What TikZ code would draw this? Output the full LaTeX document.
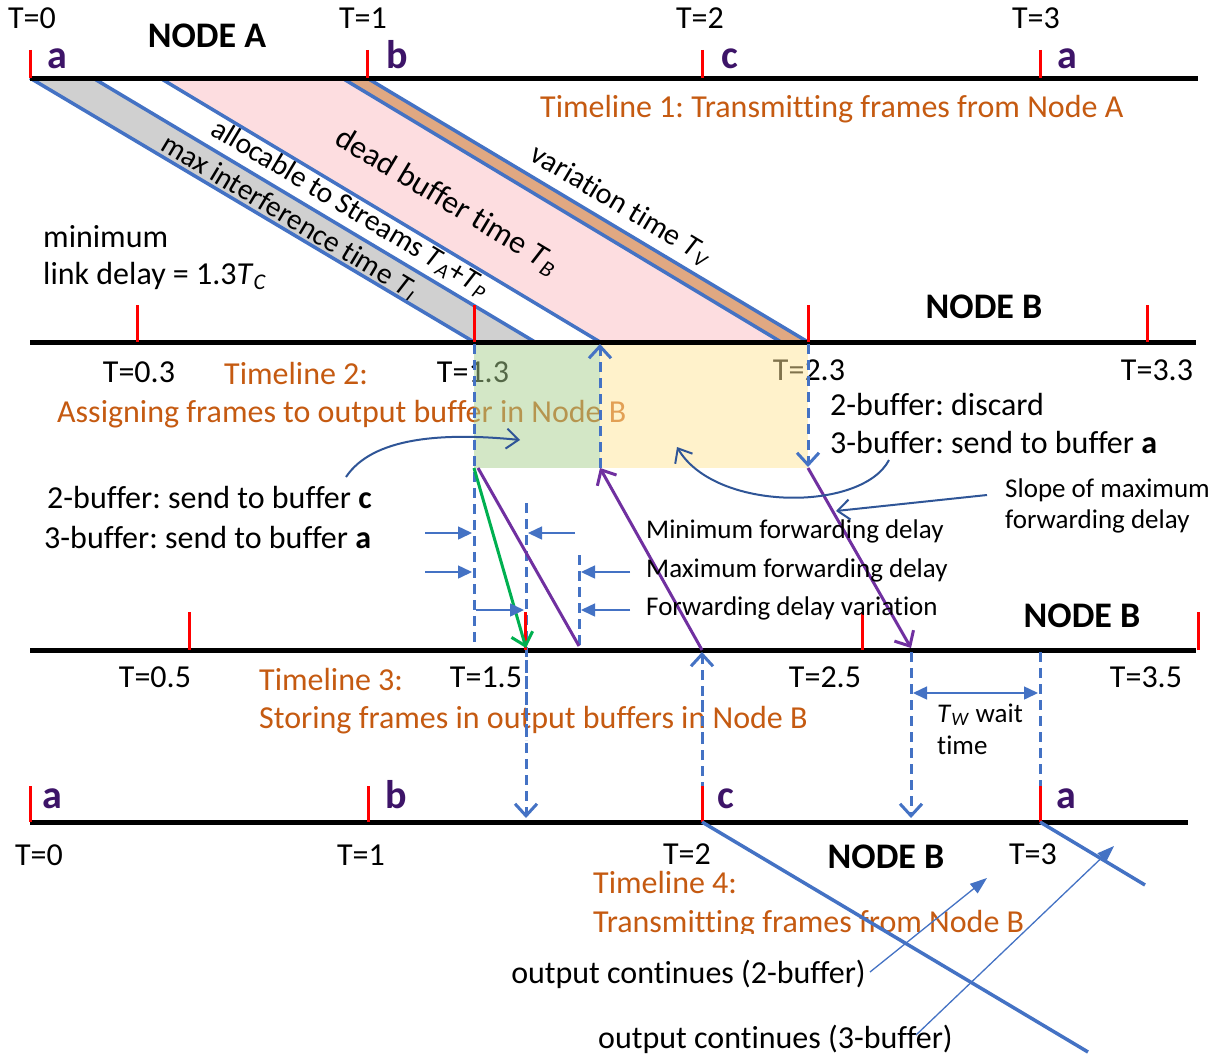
\documentclass[tikz,border=0pt]{standalone}
\usepackage{fontspec}
\setmainfont{Carlito}[Ligatures=NoCommon]
\usetikzlibrary{arrows.meta}

\definecolor{bl}{HTML}{4472C4}
\definecolor{dbl}{HTML}{2F5597}
\definecolor{pur}{HTML}{7030A0}
\definecolor{grn}{HTML}{00B050}
\definecolor{org}{HTML}{C55A11}
\definecolor{bandgrey}{HTML}{D0D0D0}
\definecolor{bandpink}{HTML}{FDDDE0}
\definecolor{bandtan}{HTML}{E0A882}
\definecolor{boxgreen}{HTML}{A9D18E}
\definecolor{boxyellow}{HTML}{FFE699}
\definecolor{framelet}{HTML}{3D1468}

\newcommand\Tsub[1]{\textit{T}\textsubscript{\textit{#1}}}
\newcommand\fnorm{\fontsize{32}{38}\selectfont}
\newcommand\fslant{\fontsize{29.5}{34}\selectfont}
\newcommand\fsmall{\fontsize{27}{32}\selectfont}
\newcommand\fnode{\fontsize{36}{40}\selectfont\bfseries}
\newcommand\fletter{\fontsize{40}{44}\selectfont\bfseries}

\tikzset{
  timeline/.style={line width=5pt, black},
  redtick/.style={red, line width=3pt},
  bandline/.style={bl, line width=3.5pt},
  vdash/.style={bl, line width=3pt, dash pattern=on 10pt off 6pt},
  veetip/.style={-{Straight Barb[length=12pt,width=22pt]}},
  purp/.style={pur, line width=3pt},
  dimarrow/.style={bl, line width=1.5pt, -{Triangle[length=14pt,width=13pt]}},
  curvearrow/.style={dbl, line width=2pt, -{Straight Barb[length=12pt,width=20pt]}},
  thinarrow/.style={bl, line width=1.3pt, -{Triangle[length=17pt,width=12pt]}},
  lab/.style={font=\fnorm, inner sep=0pt, anchor=base},
  labl/.style={font=\fnorm, inner sep=0pt, anchor=base west},
  small/.style={font=\fsmall, inner sep=0pt, anchor=base west},
  nodelab/.style={font=\fnode, inner sep=0pt, anchor=base},
  letter/.style={font=\fletter, text=framelet, inner sep=0pt, anchor=base},
  orangetext/.style={text=org},
  rot/.style={font=\fslant, inner sep=0pt, rotate=-30.9},
}

\begin{document}
\frenchspacing
\begin{tikzpicture}[x=1pt, y=-1pt]
\useasboundingbox (0,0) rectangle (1214,1057);
\fill[white] (0,0) rectangle (1214,1057);

% ---------- key points ----------
\coordinate (t1s) at (30,78);   \coordinate (t1e) at (1198,78);
\coordinate (t2s) at (30,342);  \coordinate (t2e) at (1196,342);
\coordinate (t3s) at (30,650);  \coordinate (t3e) at (1196,650);
\coordinate (t4s) at (30,822);  \coordinate (t4e) at (1188,822);

\coordinate (b1a) at (30,78);   \coordinate (b1b) at (474,342);
\coordinate (b2a) at (93,78);   \coordinate (b2b) at (535,342);
\coordinate (b3a) at (160,78);  \coordinate (b3b) at (600,342);
\coordinate (b4a) at (342,78);  \coordinate (b4b) at (781,342);
\coordinate (b5a) at (367,78);  \coordinate (b5b) at (808,342);

% ---------- propagation bands between Node A and Node B ----------
\fill[bandgrey] (b1a) -- (b2a) -- (b2b) -- (b1b) -- cycle;
\fill[bandpink] (b3a) -- (b4a) -- (b4b) -- (b3b) -- cycle;
\fill[bandtan]  (b4a) -- (b5a) -- (b5b) -- (b4b) -- cycle;

\node[rot] (lblI) at (289,218) {max interference time \Tsub{I}};
\node[rot] (lblAP) at (350,209) {allocable to Streams \Tsub{A}+\Tsub{P}};
\node[rot, font=\fnorm] (lblB) at (447,202) {dead buffer time \Tsub{B}};
\node[rot, font=\fontsize{30}{34}\selectfont] (lblV) at (621,206) {variation time \Tsub{V}};

% ---------- texts of timeline 2 (under the buffer boxes) ----------
\node[labl, orangetext] (tl2a) at (224,384) {Timeline 2:};
\node[labl, orangetext] (tl2b) at (57,422) {Assigning frames to output buffer in Node B};
\node[lab] (t2l0) at (139,382) {T=0.3};
\node[lab] (t2l1) at (473,382) {T=1.3};
\node[lab] (t2l2) at (809,380) {T=2.3};
\node[lab] (t2l3) at (1157,380) {T=3.3};

% buffer assignment windows
\fill[boxgreen, fill opacity=0.5] (474,342) rectangle (600,468);
\fill[boxyellow, fill opacity=0.5] (600,342) rectangle (808,468);
\coordinate (gbl) at (474,468);
\coordinate (gbr) at (600,468);
\coordinate (ybr) at (808,468);

% band borders
\draw[bandline] (b1a) -- (b1b);
\draw[bandline] (b2a) -- (b2b);
\draw[bandline] (b3a) -- (b3b);
\draw[bandline] (b4a) -- (b4b);
\draw[bandline] (b5a) -- (b5b);

% ---------- timelines ----------
\draw[timeline] (t1s) -- (t1e);
\draw[timeline] (t2s) -- (t2e);
\draw[timeline] (t3s) -- (t3e);
\draw[timeline] (t4s) -- (t4e);

% ---------- dashed projections ----------
\coordinate (d1a) at (474,344);  \coordinate (d1b) at (474,648);
\coordinate (d2a) at (600,468);  \coordinate (d2b) at (600,344);
\coordinate (d3a) at (808,344);  \coordinate (d3b) at (808,467);
\coordinate (d4a) at (526,503);  \coordinate (d4b) at (526,818);
\coordinate (d5a) at (579,555);  \coordinate (d5b) at (579,648);
\coordinate (d6a) at (702,792);  \coordinate (d6b) at (702,652);
\coordinate (d7a) at (911,652);  \coordinate (d7b) at (911,818);
\coordinate (d8a) at (1040,652); \coordinate (d8b) at (1040,792);
\draw[vdash] (d1a) -- (d1b);
\draw[vdash, veetip] (d2a) -- (d2b);
\draw[vdash, veetip] (d3a) -- (d3b);
\draw[vdash, veetip] (d4a) -- (d4b);
\draw[vdash] (d5a) -- (d5b);
\draw[vdash, veetip] (d6a) -- (d6b);
\draw[vdash, veetip] (d7a) -- (d7b);
\draw[vdash] (d8a) -- (d8b);

% ---------- period ticks ----------
\foreach \x in {30,367,702,1040} \draw[redtick] (\x,50) -- (\x,78);
\foreach \x in {137,474,808,1147} \draw[redtick] (\x,305) -- (\x,342);
\foreach \x in {189,525,862,1198} \draw[redtick] (\x,612) -- (\x,650);
\foreach \x in {30,368,702,1040} \draw[redtick] (\x,786) -- (\x,822);

% ---------- forwarding paths ----------
\coordinate (f1) at (478,468);  \coordinate (f1e) at (579,646);
\coordinate (f2) at (702,650);
\coordinate (f3e) at (911,648);
\coordinate (g1e) at (526,648);
\draw[purp] (f1) -- (f1e);
\draw[purp, veetip] (f2) -- (gbr);
\draw[purp, veetip] (ybr) -- (f3e);
\draw[grn, line width=3pt, veetip] (gbl) -- (g1e);

% ---------- delay dimension arrows ----------
\draw[dimarrow] (425,533) -- (472,533);
\draw[dimarrow] (575,533) -- (528,533);
\draw[dimarrow] (425,572) -- (472,572);
\draw[dimarrow] (630,572) -- (581,572);
\draw[dimarrow] (476,610) -- (524,610);
\draw[dimarrow] (630,610) -- (581,610);
\node[small] (mind) at (646,538) {Minimum forwarding delay};
\node[small] (maxd) at (646,577) {Maximum forwarding delay};
\node[small] (vard) at (646,615) {Forwarding delay variation};

% wait time
\coordinate (w1) at (913,693); \coordinate (w2) at (1038,693);
\draw[bl, line width=1.5pt, {Triangle[length=14pt,width=13pt]}-{Triangle[length=14pt,width=13pt]}] (w1) -- (w2);
\node[small] (tw1) at (937,722) {\Tsub{W} wait};
\node[small] (tw2) at (937,754) {time};

% ---------- callout arrows ----------
\coordinate (c1s) at (346,477); \coordinate (c1e) at (520,440);
\draw[curvearrow] (c1s) .. controls (372,438) and (440,432) .. (c1e);
\coordinate (c2s) at (889,460); \coordinate (c2e) at (677,447);
\draw[curvearrow] (c2s) .. controls (862,512) and (715,512) .. (c2e);
\coordinate (c3s) at (987,495); \coordinate (c3e) at (836,511);
\draw[curvearrow] (c3s) -- (c3e);

% ---------- text of timeline 1 ----------
\node[lab] (t1l0) at (32,29) {T=0};
\node[lab] (t1l1) at (363,29) {T=1};
\node[lab] (t1l2) at (700,29) {T=2};
\node[lab] (t1l3) at (1036,29) {T=3};
\node[nodelab] (nodeA) at (207,48) {NODE A};
\node[letter] (la1) at (57,68) {a};
\node[letter] (lb1) at (397,68) {b};
\node[letter] (lc1) at (730,68) {c};
\node[letter] (la2) at (1067,68) {a};
\node[labl, orangetext] (tl1) at (540,117) {Timeline 1: Transmitting frames from Node A};

\node[labl] (mld1) at (43,247) {minimum};
\node[labl] (mld2) at (43,284) {link delay = 1.3\Tsub{C}};

% ---------- text of timeline 2 ----------
\node[nodelab] (nodeB2) at (984,318) {NODE B};
\node[labl] (dis1) at (830,415) {2-buffer: discard};
\node[labl] (dis2) at (830,453) {3-buffer: send to buffer \textbf{a}};
\node[labl] (snd1) at (47,508) {2-buffer: send to buffer \textbf{c}};
\node[labl] (snd2) at (44,548) {3-buffer: send to buffer \textbf{a}};
\node[small] (slope1) at (1005,497) {Slope of maximum};
\node[small] (slope2) at (1005,528) {forwarding delay};

% ---------- text of timeline 3 ----------
\node[nodelab] (nodeB3) at (1082,627) {NODE B};
\node[lab] (t3l0) at (155,687) {T=0.5};
\node[lab] (t3l1) at (486,687) {T=1.5};
\node[lab] (t3l2) at (825,687) {T=2.5};
\node[lab] (t3l3) at (1146,687) {T=3.5};
\node[labl, orangetext] (tl3a) at (259,690) {Timeline 3:};
\node[labl, orangetext] (tl3b) at (259,728) {Storing frames in output buffers in Node B};
% dashed lines run over the text of timeline 3
\draw[vdash] (526,660) -- (526,740);
\draw[vdash] (702,700) -- (702,740);

% ---------- timeline 4 ----------
\node[letter] (la3) at (52,808) {a};
\node[letter] (lb3) at (396,808) {b};
\node[letter] (lc3) at (726,808) {c};
\node[letter] (la4) at (1066,808) {a};
\node[lab] (t4l0) at (39,865) {T=0};
\node[lab] (t4l1) at (361,865) {T=1};
\node[lab] (t4l2) at (687,864) {T=2};
\node[lab] (t4l3) at (1033,864) {T=3};
\node[nodelab] (nodeB4) at (886,868) {NODE B};
\node[labl, orangetext] (tl4a) at (593,893) {Timeline 4:};
\begin{scope}
  \clip (580,860) rectangle (1070,933);
  \node[labl, orangetext] (tl4b) at (593,932) {Transmitting frames from Node B};
\end{scope}

% outgoing transmissions from Node B
\coordinate (o1s) at (702,822); \coordinate (o1e) at (1088,1052);
\coordinate (o2s) at (1040,822); \coordinate (o2e) at (1145,885);
\draw[bandline] (o1s) -- (o1e);
\draw[bandline] (o2s) -- (o2e);

\node[font=\fnorm, inner sep=0pt, anchor=base east] (oc2) at (866,983) {output continues (2-buffer)};
\node[labl] (oc3) at (598,1048) {output continues (3-buffer)};
\coordinate (a2s) at (870,972); \coordinate (a2e) at (987,878);
\coordinate (a3s) at (916,1035); \coordinate (a3e) at (1114,846);
\draw[thinarrow] (a2s) -- (a2e);
\draw[thinarrow] (a3s) -- (a3e);
\end{tikzpicture}
\end{document}
